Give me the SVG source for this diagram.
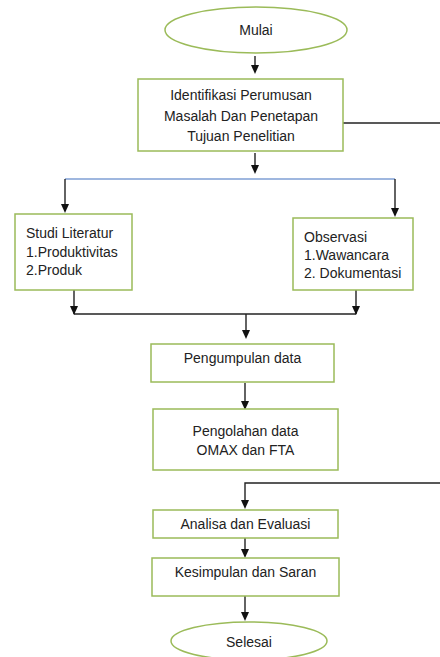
<svg xmlns="http://www.w3.org/2000/svg" width="440" height="657" viewBox="0 0 440 657">
<style>
.node{fill:#fff;stroke:#9bbb59;stroke-width:1.5}
.lbl{font-family:"Liberation Sans",Arial,sans-serif;font-size:14px;fill:#222}
.c{text-anchor:middle}
.ln{fill:none;stroke:#222;stroke-width:1.4}
.blue{fill:none;stroke:#7f9fd4;stroke-width:1.5}
.ah{fill:#111}
</style>
<rect width="440" height="657" fill="#fff"/>
<g id="connectors">
<line class="ln" x1="255" y1="56" x2="255" y2="66"/>
<line class="ln" x1="343" y1="123" x2="440" y2="123"/>
<line class="ln" x1="255" y1="153" x2="255" y2="166"/>
<line class="blue" x1="65" y1="179" x2="395" y2="179"/>
<line class="ln" x1="65" y1="179" x2="65" y2="205"/>
<line class="ln" x1="395" y1="179" x2="395" y2="209"/>
<line class="ln" x1="74" y1="290" x2="74" y2="314"/>
<line class="ln" x1="356" y1="290" x2="356" y2="314"/>
<line class="ln" x1="74" y1="314" x2="356" y2="314"/>
<line class="ln" x1="246" y1="314" x2="246" y2="331"/>
<line class="ln" x1="245" y1="383" x2="245" y2="402"/>
<polyline class="ln" points="440,483 245,483 245,501"/>
<line class="ln" x1="245" y1="538" x2="245" y2="550"/>
<line class="ln" x1="245" y1="596" x2="245" y2="613"/>
<path class="ah" d="M251,165 L259,165 L255,174 Z"/>
<path class="ah" d="M251,65 L259,65 L255,74 Z"/>
<path class="ah" d="M61,204 L69,204 L65,213 Z"/>
<path class="ah" d="M391,208 L399,208 L395,217 Z"/>
<path class="ah" d="M70,306 L78,306 L74,315 Z"/>
<path class="ah" d="M352,306 L360,306 L356,315 Z"/>
<path class="ah" d="M242,330 L250,330 L246,339 Z"/>
<path class="ah" d="M241,401 L249,401 L245,410 Z"/>
<path class="ah" d="M241,500 L249,500 L245,509 Z"/>
<path class="ah" d="M241,549 L249,549 L245,558 Z"/>
<path class="ah" d="M241,612 L249,612 L245,621 Z"/>
</g>
<g id="mulai">
<ellipse class="node" cx="256" cy="30" rx="91" ry="23"/>
<text class="lbl c" x="256" y="35">Mulai</text>
</g>
<g id="identifikasi">
<rect class="node" x="138" y="79" width="205" height="72"/>
<text class="lbl c" x="241" y="100">Identifikasi Perumusan</text>
<text class="lbl c" x="241" y="121">Masalah Dan Penetapan</text>
<text class="lbl c" x="241" y="141">Tujuan Penelitian</text>
</g>
<g id="studi">
<rect class="node" x="15" y="214" width="117" height="76"/>
<text class="lbl" x="26" y="238">Studi Literatur</text>
<text class="lbl" x="26" y="257">1.Produktivitas</text>
<text class="lbl" x="26" y="275">2.Produk</text>
</g>
<g id="observasi">
<rect class="node" x="293" y="218" width="120" height="72"/>
<text class="lbl" x="304" y="242">Observasi</text>
<text class="lbl" x="304" y="260">1.Wawancara</text>
<text class="lbl" x="304" y="278">2. Dokumentasi</text>
</g>
<g id="pengumpulan">
<rect class="node" x="151" y="344" width="183" height="38"/>
<text class="lbl c" x="242.5" y="363">Pengumpulan data</text>
</g>
<g id="pengolahan">
<rect class="node" x="153" y="409" width="185" height="61"/>
<text class="lbl c" x="245.5" y="436">Pengolahan data</text>
<text class="lbl c" x="245.5" y="455">OMAX dan FTA</text>
</g>
<g id="analisa">
<rect class="node" x="153" y="510" width="185" height="28"/>
<text class="lbl c" x="245.5" y="529">Analisa dan Evaluasi</text>
</g>
<g id="kesimpulan">
<rect class="node" x="152" y="558" width="187" height="38"/>
<text class="lbl c" x="245.5" y="577">Kesimpulan dan Saran</text>
</g>
<g id="selesai">
<ellipse class="node" cx="249" cy="641" rx="78" ry="19"/>
<text class="lbl c" x="249" y="647">Selesai</text>
</g>
</svg>
